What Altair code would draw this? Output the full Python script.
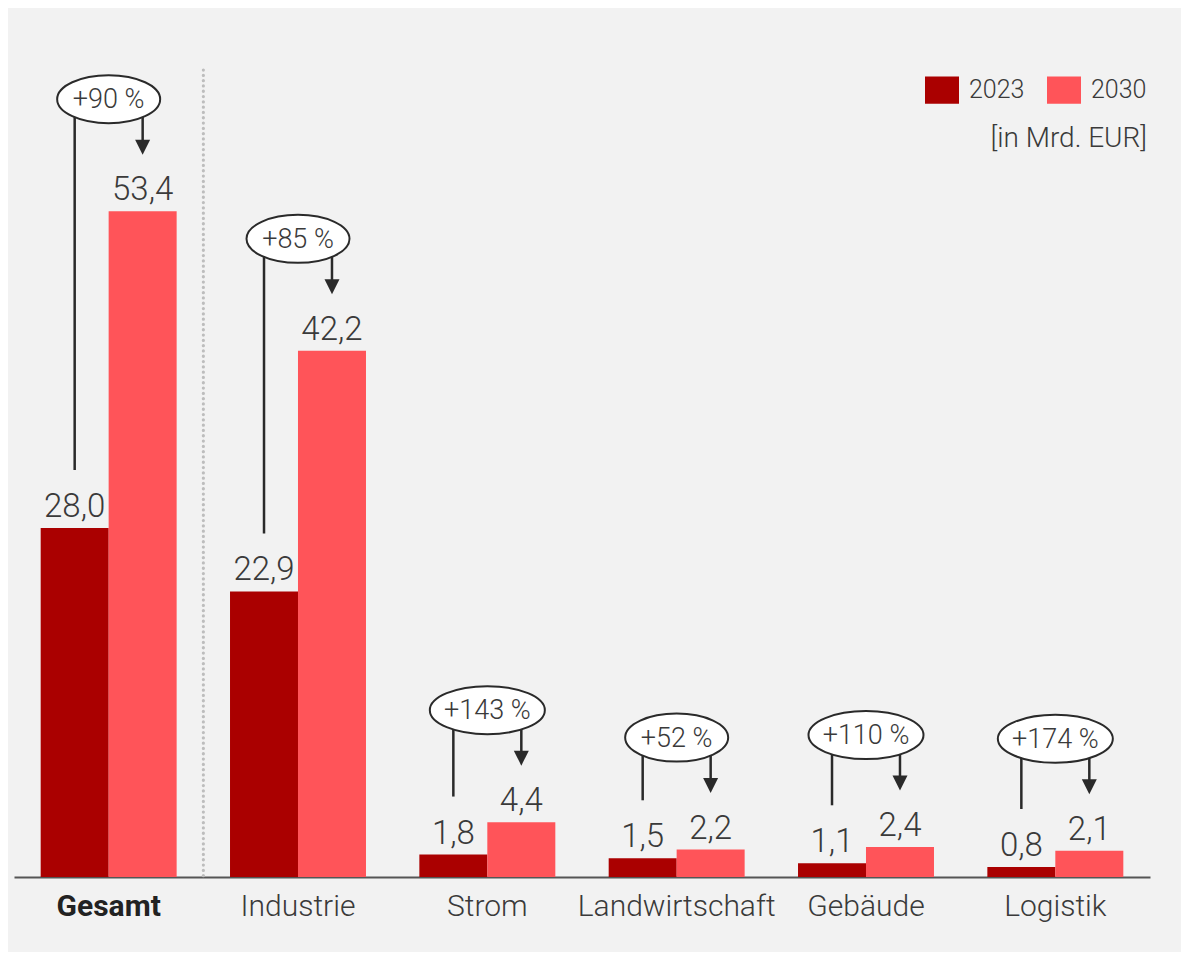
import altair as alt
import pandas as pd

categories = ["Gesamt", "Industrie", "Strom", "Landwirtschaft", "Gebäude", "Logistik"]
values_2023 = [28.0, 22.9, 1.8, 1.5, 1.1, 0.8]
values_2030 = [53.4, 42.2, 4.4, 2.2, 2.4, 2.1]
growth_labels = ["+90 %", "+85 %", "+143 %", "+52 %", "+110 %", "+174 %"]
years = ["2023", "2030"]
unit_note = "[in Mrd. EUR]"

C23 = "#aa0000"
C30 = "#ff5459"
DARK = "#2a2a2a"
TXT = "#3a3a3a"
FONT = "Roboto"

# long-form bar table
rows = []
for c, a, b in zip(categories, values_2023, values_2030):
    rows.append({"cat": c, "year": "2023", "value": a, "label": f"{a:.1f}".replace(".", ",")})
    rows.append({"cat": c, "year": "2030", "value": b, "label": f"{b:.1f}".replace(".", ",")})
bars_df = pd.DataFrame(rows)

# annotation table
ann = pd.DataFrame({"cat": categories, "v23": values_2023, "v30": values_2030, "pct": growth_labels})
ann["y23"] = "2023"
ann["y30"] = "2030"
ell_h = 48
def ell_w(label):
    return 43 + 12 * len(label)
def ellipse_path(label):
    ry = ell_h / ell_w(label)
    return f"M-1,0A1,{ry:.4f} 0 1,0 1,0A1,{ry:.4f} 0 1,0 -1,0Z"
ann["shape"] = [ellipse_path(l) for l in growth_labels]
ann["size"] = [ell_w(l) ** 2 for l in growth_labels]

W, H = 1136, 869
YMAX = 69.7

xscale = alt.Scale(domain=categories, paddingInner=0.282, paddingOuter=0.141)
xoff = alt.Scale(domain=years, paddingInner=0, paddingOuter=0)
yscale = alt.Scale(domain=[0, YMAX], nice=False, zero=True)

x_enc = alt.X(
    "cat:N",
    scale=xscale,
    sort=categories,
    title=None,
    axis=alt.Axis(
        labelAngle=0,
        labelAlign="center",
        labelLimit=0,
        ticks=False,
        grid=False,
        domainColor="#555555",
        domainWidth=2,
        labelFont=FONT,
        labelFontSize=30,
        labelPadding=29,
        labelBaseline="middle",
        labelColor=alt.expr("datum.value == 'Gesamt' ? '#222222' : '#3a3a3a'"),
        labelFontWeight=alt.expr("datum.value == 'Gesamt' ? 700 : 300"),
    ),
)

bars = alt.Chart(bars_df).mark_bar(size=68).encode(
    x=x_enc,
    xOffset=alt.XOffset("year:N", scale=xoff),
    y=alt.Y("value:Q", scale=yscale, axis=None),
    color=alt.Color(
        "year:N",
        scale=alt.Scale(domain=years, range=[C23, C30]),
        legend=alt.Legend(
            title=None,
            orient="none",
            direction="horizontal",
            legendX=911,
            legendY=65,
            symbolType="M-1,-0.8L1,-0.8L1,0.8L-1,0.8Z",
            symbolSize=1156,
            symbolStrokeWidth=0,
            labelFont=FONT,
            labelFontSize=25,
            labelFontWeight=300,
            labelColor=TXT,
            labelOffset=10,
            columnPadding=22,
            padding=0,
        ),
    ),
)

value_text = alt.Chart(bars_df).mark_text(
    baseline="alphabetic", dy=-11, font=FONT, fontSize=33, fontWeight=300, color=TXT
).encode(
    x=alt.X("cat:N", scale=xscale, sort=categories),
    xOffset=alt.XOffset("year:N", scale=xoff),
    y=alt.Y("value:Q", scale=yscale),
    text="label:N",
)

base = alt.Chart(ann)

left_rule = base.mark_rule(color=DARK, strokeWidth=2.5, yOffset=-58, y2Offset=-112).encode(
    x=alt.X("cat:N", scale=xscale, sort=categories),
    xOffset=alt.XOffset("y23:N", scale=xoff),
    y=alt.Y("v23:Q", scale=yscale),
    y2="v30:Q",
)

right_rule = base.mark_rule(color=DARK, strokeWidth=2.5, yOffset=-112, y2Offset=-70).encode(
    x=alt.X("cat:N", scale=xscale, sort=categories),
    xOffset=alt.XOffset("y30:N", scale=xoff),
    y=alt.Y("v30:Q", scale=yscale),
    y2="v30:Q",
)

arrow = base.mark_point(
    shape="M-1,-1L1,-1L0,1Z", size=225, filled=True, color=DARK, opacity=1, yOffset=-64
).encode(
    x=alt.X("cat:N", scale=xscale, sort=categories),
    xOffset=alt.XOffset("y30:N", scale=xoff),
    y=alt.Y("v30:Q", scale=yscale),
)

ellipse = base.mark_point(
    filled=True, fill="white", stroke=DARK, strokeWidth=2, opacity=1, fillOpacity=1, yOffset=-112
).encode(
    x=alt.X("cat:N", scale=xscale, sort=categories),
    y=alt.Y("v30:Q", scale=yscale),
    shape=alt.Shape("shape:N", scale=None),
    size=alt.Size("size:Q", scale=None),
)

ellipse_text = base.mark_text(
    baseline="middle", font=FONT, fontSize=27, fontWeight=300, color=TXT, yOffset=-111
).encode(
    x=alt.X("cat:N", scale=xscale, sort=categories),
    y=alt.Y("v30:Q", scale=yscale),
    text="pct:N",
)

sep = alt.Chart(pd.DataFrame({"cat": [categories[0]]})).mark_rule(
    color="#bdbdbd", strokeWidth=3.2, strokeDash=[0.1, 5.2], strokeCap="round", xOffset=94.7
).encode(
    x=alt.X("cat:N", scale=xscale, sort=categories),
    y=alt.value(62),
    y2=alt.value(H),
)

note = alt.Chart(pd.DataFrame({"t": [unit_note]})).mark_text(
    align="right", baseline="alphabetic", font=FONT, fontSize=28, fontWeight=300, color=TXT
).encode(
    x=alt.value(1133),
    y=alt.value(139),
    text="t:N",
)

chart = alt.layer(
    sep, bars, value_text, left_rule, right_rule, arrow, ellipse, ellipse_text, note
).properties(
    width=W,
    height=H,
    autosize=alt.AutoSizeParams(type="none"),
    padding={"left": 6, "top": 0, "right": 31, "bottom": 75},
    background="#f2f2f2",
).configure_view(stroke=None)

chart.save("out.html", embed_options={"renderer": "svg", "actions": False})
